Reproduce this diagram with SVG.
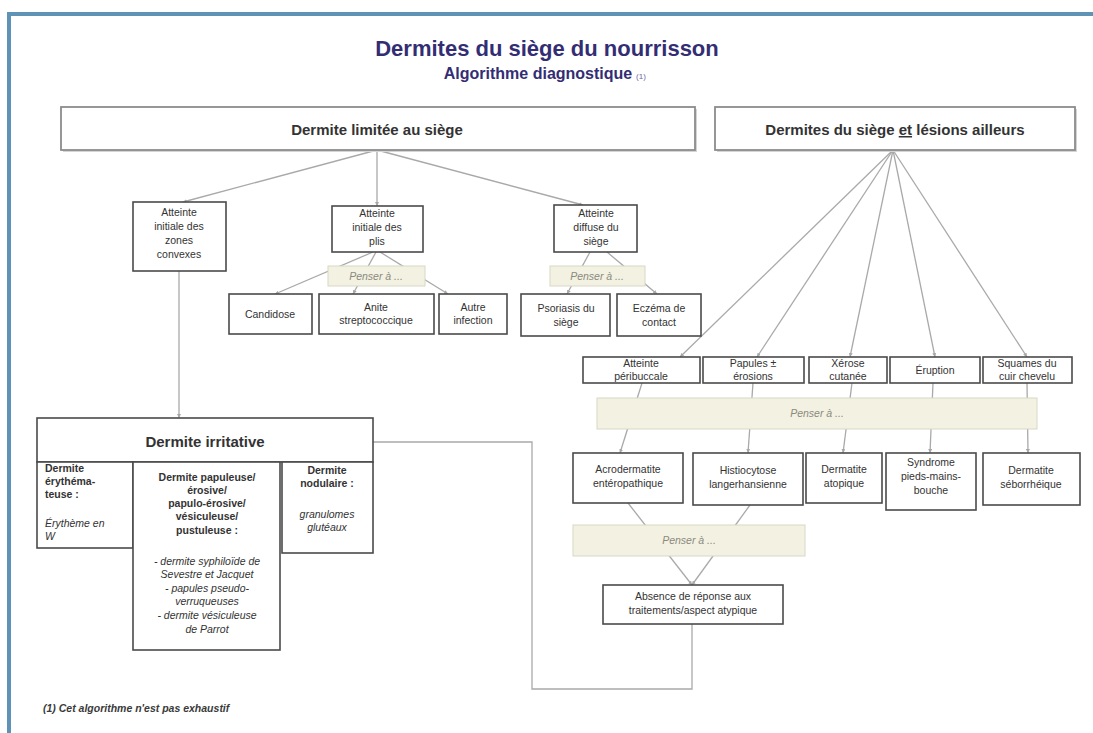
<svg xmlns="http://www.w3.org/2000/svg" width="1093" height="733" viewBox="0 0 1093 733">
<defs>
<style>
.bx{fill:#fff;stroke:#4a4a4a;stroke-width:1.6}
.bg{fill:#fff;stroke:#8c8c8c;stroke-width:1.8}
.sh{fill:#d4d4d4}
.pz{fill:#f3f1e1;stroke:#d9d7c6;stroke-width:1}
.ln{stroke:#a9a9a9;stroke-width:1.3;fill:none}
.t{font-family:"Liberation Sans",Arial,sans-serif;font-size:10.5px;fill:#333;text-anchor:middle}
.l{text-anchor:start}
.b{font-weight:bold}
.i{font-style:italic}
.p{font-family:"Liberation Sans",Arial,sans-serif;font-size:10.5px;font-style:italic;fill:#8a8a80;text-anchor:middle}
.h{font-family:"Liberation Sans",Arial,sans-serif;font-weight:bold;fill:#333;text-anchor:middle;font-size:15px}
</style>
<marker id="ah" viewBox="0 0 6 6" refX="6" refY="3" markerWidth="4" markerHeight="4" orient="auto" markerUnits="userSpaceOnUse">
<path d="M0,0 L6,3 L0,6 z" fill="#a8a8a8"/>
</marker>
</defs>
<rect x="0" y="0" width="1093" height="733" fill="#fff"/>
<g id="frame">
<line x1="7" y1="14" x2="1093" y2="14" stroke="#5f93b5" stroke-width="4"/>
<line x1="9" y1="12" x2="9" y2="733" stroke="#5f93b5" stroke-width="4"/>
</g>
<g id="title">
<text x="547" y="56" font-family="Liberation Sans, Arial, sans-serif" font-weight="bold" font-size="22" fill="#332d74" text-anchor="middle">Dermites du siège du nourrisson</text>
<text x="538" y="79" font-family="Liberation Sans, Arial, sans-serif" font-weight="bold" font-size="16" fill="#332d74" text-anchor="middle">Algorithme diagnostique</text>
<text x="641" y="79" font-family="Liberation Sans, Arial, sans-serif" font-size="8" fill="#6a66a0" text-anchor="middle">(1)</text>
</g>
<g id="connectors">
<line class="ln" x1="377" y1="150" x2="183" y2="202" marker-end="url(#ah)"/>
<line class="ln" x1="377" y1="150" x2="377" y2="206" marker-end="url(#ah)"/>
<line class="ln" x1="377" y1="150" x2="583" y2="205" marker-end="url(#ah)"/>
<line class="ln" x1="373" y1="252" x2="275" y2="294" marker-end="url(#ah)"/>
<line class="ln" x1="376" y1="252" x2="353" y2="294" marker-end="url(#ah)"/>
<line class="ln" x1="380" y1="252" x2="448" y2="294" marker-end="url(#ah)"/>
<line class="ln" x1="590" y1="252" x2="567" y2="294" marker-end="url(#ah)"/>
<line class="ln" x1="607" y1="252" x2="657" y2="294" marker-end="url(#ah)"/>
<line class="ln" x1="179" y1="271" x2="179" y2="418" marker-end="url(#ah)"/>
<line class="ln" x1="893" y1="150" x2="680" y2="357" marker-end="url(#ah)"/>
<line class="ln" x1="893" y1="150" x2="757" y2="357" marker-end="url(#ah)"/>
<line class="ln" x1="893" y1="150" x2="850" y2="357" marker-end="url(#ah)"/>
<line class="ln" x1="893" y1="150" x2="935" y2="357" marker-end="url(#ah)"/>
<line class="ln" x1="893" y1="150" x2="1027" y2="357" marker-end="url(#ah)"/>
<line class="ln" x1="642" y1="383" x2="620" y2="453" marker-end="url(#ah)"/>
<line class="ln" x1="753" y1="383" x2="748" y2="453" marker-end="url(#ah)"/>
<line class="ln" x1="852" y1="383" x2="843" y2="453" marker-end="url(#ah)"/>
<line class="ln" x1="933" y1="383" x2="930" y2="453" marker-end="url(#ah)"/>
<line class="ln" x1="1027" y1="383" x2="1028" y2="453" marker-end="url(#ah)"/>
<line class="ln" x1="628" y1="503" x2="692" y2="585" marker-end="url(#ah)"/>
<line class="ln" x1="750" y1="505" x2="692" y2="585" marker-end="url(#ah)"/>
<polyline class="ln" points="692,624 692,689 532,689 532,442 373,442"/>
</g>
<g id="n-limitee">
<rect class="sh" x="63" y="109" width="634" height="43"/>
<rect class="bg" x="61" y="107" width="634" height="43"/>
<text class="h" x="377" y="135">Dermite limitée au siège</text>
</g>
<g id="n-ailleurs">
<rect class="sh" x="717" y="109" width="360" height="43"/>
<rect class="bg" x="715" y="107" width="360" height="43"/>
<text class="h" x="895" y="135">Dermites du siège <tspan text-decoration="underline">et</tspan> lésions ailleurs</text>
</g>
<g id="n-convexes">
<rect class="bx" x="133" y="202" width="93" height="69"/>
<text class="t" x="179" y="216">Atteinte</text>
<text class="t" x="179" y="230">initiale des</text>
<text class="t" x="179" y="244">zones</text>
<text class="t" x="179" y="258">convexes</text>
</g>
<g id="n-plis">
<rect class="bx" x="332" y="206" width="91" height="46"/>
<text class="t" x="377" y="217">Atteinte</text>
<text class="t" x="377" y="231">initiale des</text>
<text class="t" x="377" y="245">plis</text>
</g>
<g id="n-diffuse">
<rect class="bx" x="554" y="205" width="83" height="47"/>
<text class="t" x="596" y="217">Atteinte</text>
<text class="t" x="596" y="231">diffuse du</text>
<text class="t" x="596" y="245">siège</text>
</g>
<g id="n-pz1">
<rect class="pz" x="328" y="266" width="97" height="20"/>
<text class="p" x="376" y="280">Penser à ...</text>
</g>
<g id="n-pz2">
<rect class="pz" x="550" y="266" width="95" height="20"/>
<text class="p" x="597" y="280">Penser à ...</text>
</g>
<g id="n-candidose">
<rect class="bx" x="229" y="294" width="83" height="40"/>
<text class="t" x="270" y="318">Candidose</text>
</g>
<g id="n-anite">
<rect class="bx" x="319" y="294" width="115" height="40"/>
<text class="t" x="376" y="311">Anite</text>
<text class="t" x="376" y="324">streptococcique</text>
</g>
<g id="n-autre">
<rect class="bx" x="439" y="294" width="68" height="40"/>
<text class="t" x="473" y="311">Autre</text>
<text class="t" x="473" y="324">infection</text>
</g>
<g id="n-psoriasis">
<rect class="bx" x="521" y="294" width="89" height="42"/>
<text class="t" x="566" y="312">Psoriasis du</text>
<text class="t" x="566" y="326">siège</text>
</g>
<g id="n-eczema">
<rect class="bx" x="617" y="294" width="84" height="42"/>
<text class="t" x="659" y="312">Eczéma de</text>
<text class="t" x="659" y="326">contact</text>
</g>
<g id="n-peri">
<rect class="bx" x="583" y="357" width="117" height="26"/>
<text class="t" x="641" y="367">Atteinte</text>
<text class="t" x="641" y="380">péribuccale</text>
</g>
<g id="n-papules">
<rect class="bx" x="703" y="357" width="101" height="26"/>
<text class="t" x="753" y="367">Papules ±</text>
<text class="t" x="753" y="380">érosions</text>
</g>
<g id="n-xerose">
<rect class="bx" x="809" y="357" width="78" height="26"/>
<text class="t" x="848" y="367">Xérose</text>
<text class="t" x="848" y="380">cutanée</text>
</g>
<g id="n-eruption">
<rect class="bx" x="890" y="357" width="90" height="26"/>
<text class="t" x="935" y="374">Éruption</text>
</g>
<g id="n-squames">
<rect class="bx" x="983" y="357" width="89" height="26"/>
<text class="t" x="1027" y="367">Squames du</text>
<text class="t" x="1027" y="380">cuir chevelu</text>
</g>
<g id="n-pz3">
<rect class="pz" x="597" y="398" width="440" height="31"/>
<text class="p" x="817" y="417">Penser à ...</text>
</g>
<g id="n-acro">
<rect class="bx" x="573" y="453" width="110" height="50"/>
<text class="t" x="628" y="473">Acrodermatite</text>
<text class="t" x="628" y="487">entéropathique</text>
</g>
<g id="n-histio">
<rect class="bx" x="693" y="453" width="110" height="52"/>
<text class="t" x="748" y="474">Histiocytose</text>
<text class="t" x="748" y="488">langerhansienne</text>
</g>
<g id="n-atopique">
<rect class="bx" x="806" y="453" width="76" height="50"/>
<text class="t" x="844" y="473">Dermatite</text>
<text class="t" x="844" y="487">atopique</text>
</g>
<g id="n-pmb">
<rect class="bx" x="886" y="453" width="90" height="57"/>
<text class="t" x="931" y="466">Syndrome</text>
<text class="t" x="931" y="480">pieds-mains-</text>
<text class="t" x="931" y="494">bouche</text>
</g>
<g id="n-sebo">
<rect class="bx" x="983" y="453" width="97" height="52"/>
<text class="t" x="1031" y="474">Dermatite</text>
<text class="t" x="1031" y="488">séborrhéique</text>
</g>
<g id="n-pz4">
<rect class="pz" x="573" y="525" width="232" height="31"/>
<text class="p" x="689" y="544">Penser à ...</text>
</g>
<g id="n-absence">
<rect class="bx" x="603" y="585" width="180" height="39"/>
<text class="t" x="693" y="600">Absence de réponse aux</text>
<text class="t" x="693" y="614">traitements/aspect atypique</text>
</g>
<g id="n-irritative">
<rect class="bx" x="37" y="418" width="336" height="44"/>
<text class="h" x="205" y="447">Dermite irritative</text>
</g>
<g id="n-erythemateuse">
<rect class="bx" x="37" y="462" width="96" height="86"/>
<text class="t l b" x="45" y="472">Dermite</text>
<text class="t l b" x="45" y="485">érythéma-</text>
<text class="t l b" x="45" y="498">teuse :</text>
<text class="t l i" x="45" y="527">Érythème en</text>
<text class="t l i" x="45" y="540">W</text>
</g>
<g id="n-papuleuse">
<rect class="bx" x="133" y="462" width="147" height="188"/>
<text class="t b" x="207" y="481">Dermite papuleuse/</text>
<text class="t b" x="207" y="494">érosive/</text>
<text class="t b" x="207" y="507">papulo-érosive/</text>
<text class="t b" x="207" y="520">vésiculeuse/</text>
<text class="t b" x="207" y="534">pustuleuse :</text>
<text class="t i" x="207" y="565">- dermite syphiloïde de</text>
<text class="t i" x="207" y="578">Sevestre et Jacquet</text>
<text class="t i" x="207" y="592">- papules pseudo-</text>
<text class="t i" x="207" y="605">verruqueuses</text>
<text class="t i" x="207" y="619">- dermite vésiculeuse</text>
<text class="t i" x="207" y="633">de Parrot</text>
</g>
<g id="n-nodulaire">
<rect class="bx" x="282" y="462" width="91" height="91"/>
<text class="t b" x="327" y="474">Dermite</text>
<text class="t b" x="327" y="487">nodulaire :</text>
<text class="t i" x="327" y="518">granulomes</text>
<text class="t i" x="327" y="531">glutéaux</text>
</g>
<g id="footnote">
<text x="43" y="712" font-family="Liberation Sans, Arial, sans-serif" font-size="10.5" font-weight="bold" font-style="italic" fill="#3a3a3a">(1) Cet  algorithme n'est pas exhaustif</text>
</g>
</svg>
